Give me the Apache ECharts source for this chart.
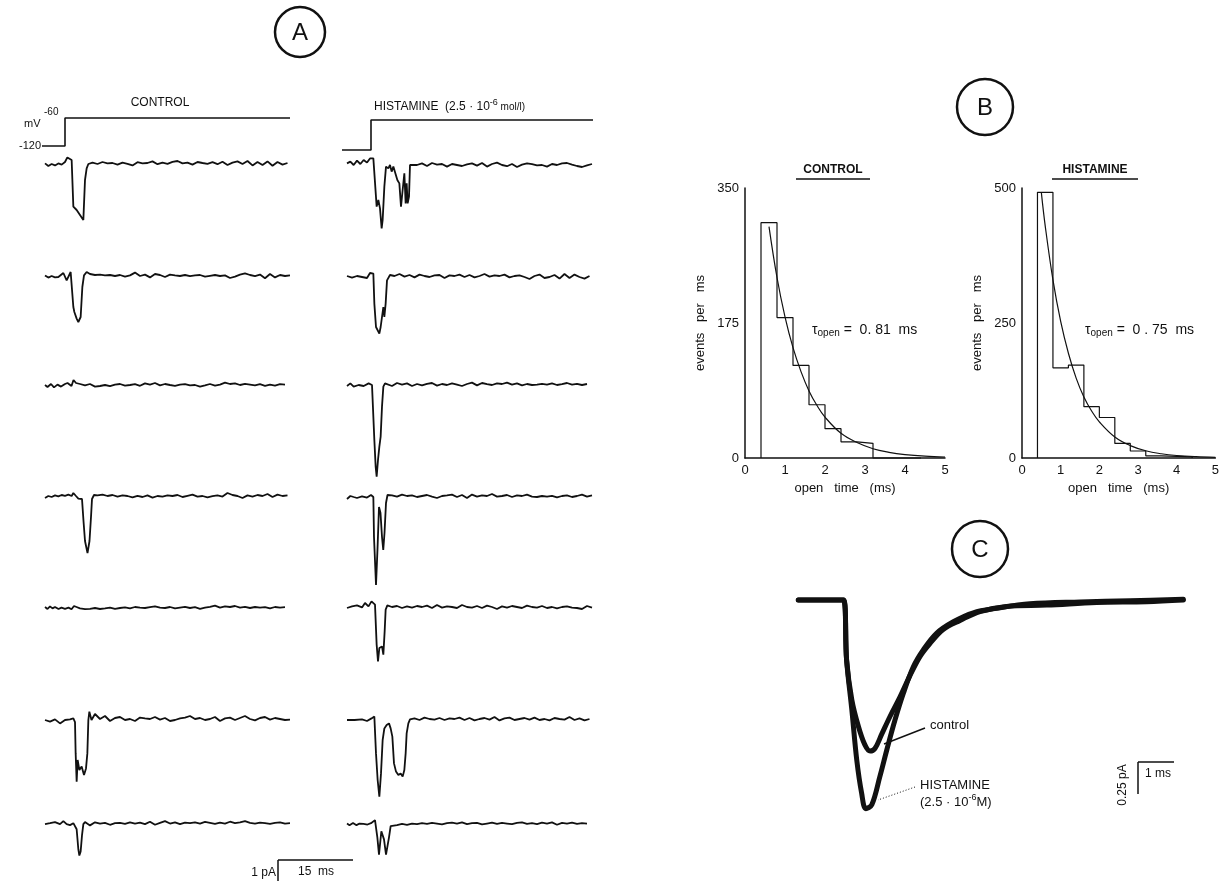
<!DOCTYPE html>
<html><head><meta charset="utf-8">
<script src="https://cdn.jsdelivr.net/npm/echarts@6/dist/echarts.min.js"></script>
<style>html,body{margin:0;padding:0;background:#fff}#c{width:1222px;height:885px}</style>
</head><body><div id="c"></div>
<script>
// ---------- Panel A: single-channel traces (pA vs ms) ----------
const rowBaselines = [165, 277, 385, 497, 608, 720, 832];
const C1ev=[[0,.08],[0.67,-.05],[1.33,.05],[2,-.02],[2.67,.08],[3.33,.02],[4,.15],[4.47,.38],[5.33,.25],[5.67,-2.08],[6.33,-2.25],[7,-2.5],[7.67,-2.75],[8,-0.75],[8.33,-0.17],[8.67,0.05]];
const C1n=[.12,.05,.15,.08,.1,.02,.12,.06,-.02,.14,.08,.1,.18,.04,.12,.06,.16,.2,.08,.12,.02,.15,.1,.06,.14,.04,.16,.0,.12,.18,.05,.2,-.02,.15,.0,.18,-.04,.15,.02,.1];
const C2ev=[[0,.08],[0.67,-.03],[1.33,.05],[2,-.02],[2.67,0],[3.67,.2],[4.33,-.17],[5.13,.25],[5.53,.17],[5.67,-1.5],[5.87,-1.75],[6.33,-2.08],[6.67,-2.25],[7.13,-2.0],[7.47,-0.5],[7.8,.08],[8.33,.25]];
const C2n=[.15,.1,.12,.08,.1,.05,.1,.02,.08,.22,.05,.12,-.02,.15,.1,.0,.12,.08,.05,.1,.04,.08,.1,.02,.06,.1,.05,.08,-.05,.02,.12,.18,.1,.04,.12,-.06,.15,-.02,.1,.05,.08];
const C3ev=[[0,0],[0.5,-.1],[1.2,.05],[1.8,-.12],[2.5,.02],[3.2,-.08],[4,.05],[4.5,.1],[5.3,-.05],[5.7,.25],[6.2,.1]];
const C3n=[.05,-.02,.05,-.08,-.05,.0,-.06,.02,.05,-.03,.0,.04,-.04,.08,.02,.1,-.02,.05,.0,-.04,.02,.04,-.02,.0,-.08,-.02,.05,-.03,.02,.12,.05,.08,.0,.06,.02,-.02,.04,-.04,.02,-.03,.04,.02];
const C4ev=[[0,-.05],[0.67,.05],[1.33,.0],[2,.08],[2.67,.03],[3.33,.1],[4,.06],[4.67,.12],[5.33,.05],[5.67,.2],[6.2,.05],[6.67,-.08],[7.4,-.1],[7.7,-1.2],[8.0,-2.2],[8.5,-2.8],[8.9,-2.2],[9.2,-1.0],[9.4,-.1],[9.8,.1]];
const C4n=[.08,.12,.05,.1,.02,.08,.05,-.02,.06,.0,.08,-.03,.05,.02,.08,.05,.1,.0,.06,.12,.02,.05,-.02,.04,.08,.02,.2,.1,.05,-.05,.08,.02,.1,.05,.15,.0,.12,.05,.08];
const C5ev=[[0,.05],[0.5,-.05],[1,.08],[1.5,-.02],[2,.05],[2.7,-.05],[3.3,.02],[4,-.04],[4.7,.02],[5.3,-.06],[5.8,.1],[6.3,.05]];
const C5n=[-.02,-.06,-.04,.0,-.05,-.02,.02,-.04,.0,.03,-.02,.05,.02,.0,.04,.08,.02,.0,.05,-.02,.02,.06,.0,.04,-.04,.02,.06,.12,.02,.08,.05,.1,.02,.06,.0,.05,.02,.04,-.02,.05,.02,.04];
const C6ev=[[0,0],[1,-.08],[2,.03],[3,-.17],[4,0],[5,.03],[5.67,.08],[6.0,-.1],[6.13,-1.67],[6.33,-3.08],[6.53,-2.0],[6.87,-2.5],[7.33,-2.33],[7.8,-2.75],[8.2,-2.42],[8.47,-1.67],[8.67,0],[8.87,.42],[9.3,0]];
const C6n=[.3,.05,.2,-.05,.1,.15,.0,.05,-.05,.12,.08,.05,.15,.02,.1,-.05,.0,.08,.12,.2,.05,.1,.0,.05,.15,-.05,.08,.12,.0,.1,.2,.05,-.02,.1,.15,.02,.1,.05,.0,.02];
const C7ev=[[0,0],[1,.08],[2,.17],[3,0],[3.67,.25],[4.33,0],[5,-.08],[5.67,.08],[6.33,-0.42],[6.67,-2.08],[6.87,-2.58],[7.13,-2.25],[7.4,-0.92],[7.67,0],[8,.17]];
const C7n=[-.1,.15,.05,.1,-.05,.08,.1,.02,.15,.05,.12,.0,.2,-.05,.1,.25,.05,.15,.0,.12,.08,.15,.05,.18,.1,.02,.12,.05,.2,.08,.15,.25,.1,.05,.12,.08,.02,.1,.15,.05,.08];

const H1ev=[[0,.08],[0.67,.17],[1.33,0],[2,.22],[2.67,.05],[3.33,.25],[4,.12],[4.6,.33],[5.27,.33],[5.6,.25],[5.93,-2.08],[6.27,-1.75],[6.6,-2.17],[6.93,-3.17],[7.13,-2.75],[7.47,-1.08],[7.8,-.08],[8.27,-.17],[8.6,0],[8.93,-.33],[9.27,-.08],[9.6,0],[10.07,-.75],[10.47,-.92],[10.8,-2.08],[11.13,-1.25],[11.47,-.42],[11.73,-1.92],[11.93,-.92],[12.13,-1.92],[12.4,-1.58],[12.6,0],[13,.05]];
const H1n=[.0,.08,-.05,.1,.02,.05,-.08,.05,.0,-.05,.03,.08,-.03,.1,-.08,.05,.12,.0,-.06,.05,-.1,.02,.08,.04,-.02,.0,-.08,.05,.0,.08,.1,.02,-.05,-.1,-.02,.05];
const H2ev=[[0,.05],[1,-.03],[2,.05],[3,.0],[4,-.05],[4.6,.2],[5.27,.17],[5.47,-1.33],[5.8,-2.5],[6.13,-2.58],[6.47,-2.83],[6.73,-2.5],[7.0,-2.0],[7.27,-1.5],[7.47,-2.0],[7.73,-1.33],[8.0,-.17],[8.27,-.08],[8.6,.1]];
const H2n=[.05,.15,.02,.1,-.02,.12,.05,.0,.08,.1,-.05,.08,.05,.12,.0,.1,-.02,.05,.15,.02,.08,.05,.12,-.02,.05,.08,.0,-.1,.05,.12,-.05,.0,.1,-.08,.15,-.05,.12,.0,-.08,.05];
const H3ev=[[0,-.05],[0.67,.08],[1.33,-.08],[2.33,.0],[3.33,-.05],[4.33,.08],[5,.0],[5.27,0],[5.47,-2.75],[5.73,-4.08],[5.93,-4.58],[6.2,-3.75],[6.47,-3.08],[6.73,-2.58],[7.0,-1.08],[7.27,-.08],[7.6,.08]];
const H3n=[.12,-.05,.1,.02,.08,-.05,.05,-.02,.06,.1,-.03,.05,.0,.08,.02,-.05,.05,.12,-.02,.1,.04,.0,.08,.05,.12,.02,.08,-.02,.05,.0,.02,.06,.02,.08,.0,.04,.1,.02,.06,.0,.05];
const H4ev=[[0,-.1],[0.67,.05],[1.33,.0],[2,-.05],[3,.03],[4,-.03],[4.8,.1],[5.27,0],[5.4,-2.0],[5.8,-4.4],[6.1,-2.6],[6.4,-0.5],[6.7,-0.8],[7.0,-2.0],[7.25,-2.65],[7.5,-1.8],[7.8,-0.3],[8.1,0.1]];
const H4n=[.08,.02,.12,.05,.08,.0,.05,.1,.02,-.05,.05,.08,.12,.0,.1,-.05,.12,.02,.08,.05,.15,.02,.05,.1,.0,.08,.05,.12,.02,.0,.05,.02,.06,-.02,.05,.08,.0,.05,.12,.02,.08];
const H5ev=[[0,0],[1,.08],[2,.13],[3,.03],[3.6,.25],[4.3,.08],[4.9,.33],[5.6,.17],[5.93,-1.83],[6.2,-2.67],[6.47,-2.0],[6.73,-2.08],[7.0,-1.92],[7.27,-2.33],[7.53,-1.17],[7.73,-.08],[8.07,.13]];
const H5n=[.05,.1,.0,.08,.02,.1,.05,.12,.0,.15,.02,.08,.05,.0,.15,.05,.02,.1,.0,.12,.05,-.05,.08,.02,.1,.05,.0,.12,.05,.02,.1,.0,.05,-.02,.05,.08,.02,.0,-.05,.1,.02];
const H6ev=[[0,0],[1.5,0],[3,.03],[4,-.05],[4.9,.08],[5.47,.17],[5.8,-1.67],[6.13,-3.0],[6.47,-3.83],[6.8,-2.67],[7.13,-1.0],[7.47,-.42],[7.93,-.25],[8.4,-.17],[8.73,-.42],[9.07,-.83],[9.4,-2.17],[9.8,-2.58],[10.27,-2.75],[10.73,-2.67],[11.13,-2.83],[11.47,-2.5],[11.73,-1.67],[11.93,-.67],[12.27,-.17],[12.6,.03]];
const H6n=[.08,.0,.12,.05,.02,.1,.0,.08,.05,.12,.0,.1,-.02,.05,.1,.02,.15,-.02,.08,.12,.0,.05,.1,.02,.12,.0,.05,-.02,.1,.05,.02,.15,.0,.08,-.02,.05];
const H7ev=[[0,.05],[0.5,-.08],[1.2,.1],[1.9,-.08],[2.5,.05],[3.3,.02],[4.1,-.03],[4.8,.08],[5.6,.33],[6.07,-1.08],[6.4,-2.5],[6.6,-2.58],[6.87,-.58],[7.13,-.42],[7.4,-1.25],[7.8,-2.5],[8.07,-2.58],[8.4,-1.08],[8.73,-.17],[9.13,-.08]];
const H7n=[-.08,.02,-.05,.05,.0,.08,.02,.1,.05,-.02,.08,.12,.05,.15,.0,.08,.1,-.02,.05,.12,.02,.1,.05,.0,.1,.15,.02,.08,.0,.12,.05,.15,-.05,.1,.05,.12,.02,.08,.05];

const controlTraces = [[C1ev,9.5,C1n],[C2ev,9,C2n],[C3ev,7,C3n],[C4ev,10.5,C4n],[C5ev,7,C5n],[C6ev,10,C6n],[C7ev,9,C7n]];
const histTraces = [[H1ev,14,H1n],[H2ev,9.5,H2n],[H3ev,8,H3n],[H4ev,9,H4n],[H5ev,9,H5n],[H6ev,13.5,H6n],[H7ev,10,H7n]];

// voltage protocol (mV vs ms)
const stepControl = [[-0.6,-120],[4,-120],[4,-60],[49,-60]];
const stepHist = [[-1,-120],[4.8,-120],[4.8,-60],[49.2,-60]];

// ---------- Panel B: open-time histograms ----------
const binEdges = [0.4,0.8,1.2,1.6,2.0,2.4,2.8,3.2,3.6,4.0,4.4];
const ctrlCounts = [305,182,120,69,38,21,19,0,0,0];
const histCounts = [492,167,172,95,75,27,13,4,3,2];
const fitT = [0.6,0.8,1.0,1.2,1.4,1.6,1.8,2.0,2.4,2.8,3.2,3.6,4.0,4.5,5.0];
const ctrlFit = [300,234,183,143,112,87,68,53,32,20,12,7.4,4.5,2.4,1.3];
const fitTH = [0.5,0.6,0.8,1.0,1.2,1.4,1.6,1.8,2.0,2.4,2.8,3.2,3.6,4.0,4.5,5.0];
const histFit = [492,430,330,253,194,148,113,87,67,39,23,13.4,7.9,4.6,2.4,1.2];
const xTicksB = [0,1,2,3,4,5];

// ---------- Panel C: averaged currents (pA vs ms) ----------
const cHist = [[0,0],[1.29,0],[1.38,-0.47],[1.53,-0.86],[1.67,-1.25],[1.81,-1.51],[1.93,-1.63],[2.10,-1.60],[2.33,-1.38],[2.53,-1.17],[2.76,-0.94],[3.0,-0.73],[3.29,-0.52],[3.57,-0.39],[3.95,-0.26],[4.43,-0.17],[5.0,-0.10],[5.67,-0.065],[6.62,-0.03],[8.05,-0.015],[9.48,-0.005],[11.0,0.005]];
const cCtrl = [[0,0],[1.29,0],[1.38,-0.47],[1.53,-0.78],[1.72,-0.99],[1.90,-1.13],[2.05,-1.18],[2.19,-1.16],[2.38,-1.05],[2.62,-0.91],[2.90,-0.76],[3.19,-0.59],[3.48,-0.44],[3.76,-0.34],[4.14,-0.23],[4.62,-0.16],[5.19,-0.09],[5.95,-0.05],[7.1,-0.04],[8.52,-0.02],[9.95,-0.013],[11.0,0]];

function histOutline(edges, counts){
  const d=[[edges[0],0]];
  counts.forEach((c,i)=>{ d.push([edges[i],c]); d.push([edges[i+1],c]); });
  d.push([edges[counts.length],0]);
  return d;
}
function buildTrace(t){ const [ev,start,n]=t; return ev.concat(n.map((v,i)=>[start+i,v])); }

const FONT = 'Liberation Sans';
const INK = '#111';
const grid=[], xAxis=[], yAxis=[], series=[];
function hiddenAxes(xmin,xmax,ymin,ymax){
  const gi=grid.length-1;
  xAxis.push({gridIndex:gi,type:'value',min:xmin,max:xmax,show:false});
  yAxis.push({gridIndex:gi,type:'value',min:ymin,max:ymax,show:false});
  return gi;
}
function lineSeries(gi,data,w,extra){
  series.push(Object.assign({type:'line',xAxisIndex:gi,yAxisIndex:gi,data:data,showSymbol:false,symbol:'none',
    lineStyle:{color:INK,width:w},animation:false,clip:false,silent:true},extra||{}));
}
rowBaselines.forEach((b,i)=>{
  grid.push({left:35,top:b-20,width:255,height:120});
  lineSeries(hiddenAxes(-2,49,-5,1), buildTrace(controlTraces[i]), 1.8);
  grid.push({left:337,top:b-20,width:255,height:120});
  lineSeries(hiddenAxes(-2,49,-5,1), buildTrace(histTraces[i]), 1.8);
});
grid.push({left:35,top:118,width:255,height:28});
lineSeries(hiddenAxes(-2,49,-120,-60), stepControl, 1.6);
grid.push({left:337,top:120,width:255,height:30});
lineSeries(hiddenAxes(-2,49,-120,-60), stepHist, 1.6);

function histAxes(left, ymax, yint){
  grid.push({left:left,top:188,width:200,height:270});
  const gi=grid.length-1;
  xAxis.push({gridIndex:gi,type:'value',min:0,max:5,interval:1,
    name:'open   time   (ms)',nameLocation:'middle',nameGap:24,
    nameTextStyle:{color:INK,fontSize:13,fontFamily:FONT},
    axisLine:{show:true,onZero:false,lineStyle:{color:INK,width:1.5}},axisTick:{show:false},splitLine:{show:false},
    axisLabel:{color:INK,fontSize:13,fontFamily:FONT,margin:6,formatter:v=>xTicksB.includes(v)?String(v):''}});
  yAxis.push({gridIndex:gi,type:'value',min:0,max:ymax,interval:yint,
    name:'events   per   ms',nameLocation:'middle',nameGap:38,nameRotate:90,
    nameTextStyle:{color:INK,fontSize:13,fontFamily:FONT},
    axisLine:{show:true,lineStyle:{color:INK,width:1.5}},axisTick:{show:false},splitLine:{show:false},
    axisLabel:{color:INK,fontSize:13,fontFamily:FONT,margin:6}});
  return gi;
}
const gL = histAxes(745,350,175);
lineSeries(gL, histOutline(binEdges,ctrlCounts), 1.2);
lineSeries(gL, fitT.map((t,i)=>[t,ctrlFit[i]]), 1.2, {smooth:0.4});
const gR = histAxes(1022,500,250);
lineSeries(gR, histOutline(binEdges,histCounts), 1.2);
lineSeries(gR, fitTH.map((t,i)=>[t,histFit[i]]), 1.2, {smooth:0.4});

grid.push({left:798.3,top:574.4,width:385,height:281.6});
const gC = hiddenAxes(0,11,-2.0,0.2);
lineSeries(gC, cCtrl, 5, {smooth:0.35, lineStyle:{color:INK,width:5,cap:'round',join:'round'}});
lineSeries(gC, cHist, 5, {smooth:0.35, lineStyle:{color:INK,width:5,cap:'round',join:'round'}});

function txt(x,y,s,opt){ return {type:'text',x:x,y:y,style:Object.assign({text:s,fill:INK,font:'13px '+FONT,textAlign:'left',textVerticalAlign:'middle'},opt||{})}; }
function ln(x1,y1,x2,y2,w,dash){ return {type:'line',shape:{x1,y1,x2,y2},style:{stroke:INK,lineWidth:w||1.5,lineDash:dash||null}}; }
function circ(cx,cy,r,letter){ return [{type:'circle',shape:{cx,cy,r},style:{fill:'none',stroke:INK,lineWidth:2.5}},
  txt(cx,cy+1,letter,{font:'24px '+FONT,textAlign:'center'})]; }

const graphic = [].concat(
  circ(300,32,25,'A'), circ(985,107,28,'B'), circ(980,549,28,'C'),
  [
  txt(160,103,'CONTROL',{font:'12px '+FONT,textAlign:'center'}),
  {type:'text',x:374,y:107,style:{rich:{a:{font:'12px '+FONT,fill:INK},s:{font:'9px '+FONT,fill:INK,padding:[0,0,8,0]},m:{font:'10px '+FONT,fill:INK}},
     text:'{a|HISTAMINE  (2.5 · 10}{s|-6}{m| mol/l)}',textVerticalAlign:'middle'}},
  txt(24,124,'mV',{font:'11px '+FONT}),
  txt(44,112,'-60',{font:'10px '+FONT}),
  txt(41,146,'-120',{font:'11px '+FONT,textAlign:'right'}),
  txt(276,873,'1 pA',{font:'12px '+FONT,textAlign:'right'}),
  ln(278,860,278,881,1.5), ln(278,860,353,860,1.5),
  txt(316,872,'15  ms',{font:'12px '+FONT,textAlign:'center'}),
  txt(833,170,'CONTROL',{font:'bold 12px '+FONT,textAlign:'center'}), ln(796,179,870,179,1.5),
  txt(1095,170,'HISTAMINE',{font:'bold 12px '+FONT,textAlign:'center'}), ln(1052,179,1138,179,1.5),
  {type:'text',x:812,y:330,style:{rich:{t:{font:'14px '+FONT,fill:INK},s:{font:'10px '+FONT,fill:INK,padding:[6,0,0,0]}},text:'{t|τ}{s|open}{t| =  0. 81  ms}',textVerticalAlign:'middle'}},
  {type:'text',x:1085,y:330,style:{rich:{t:{font:'14px '+FONT,fill:INK},s:{font:'10px '+FONT,fill:INK,padding:[6,0,0,0]}},text:'{t|τ}{s|open}{t| =  0 . 75  ms}',textVerticalAlign:'middle'}},
  txt(930,725,'control',{font:'13px '+FONT}), ln(925,728,884,744,1.5),
  txt(920,785,'HISTAMINE',{font:'13px '+FONT}),
  {type:'text',x:920,y:802,style:{rich:{a:{font:'13px '+FONT,fill:INK},s:{font:'9px '+FONT,fill:INK,padding:[0,0,8,0]}},text:'{a|(2.5 · 10}{s|-6}{a|M)}',textVerticalAlign:'middle'}},
  ln(915,787,878,800,1,[1,2]),
  ln(1138,762,1138,794,1.5), ln(1138,762,1174,762,1.5),
  txt(1158,774,'1 ms',{font:'12px '+FONT,textAlign:'center'}),
  {type:'text',x:1123,y:785,rotation:Math.PI/2,style:{text:'0.25 pA',fill:INK,font:'12px '+FONT,textAlign:'center',textVerticalAlign:'middle'}}
  ]);

const chart = echarts.init(document.getElementById('c'),null,{renderer:'canvas'});
chart.setOption({backgroundColor:'#fff',animation:false,grid,xAxis,yAxis,series,graphic});
</script></body></html>
